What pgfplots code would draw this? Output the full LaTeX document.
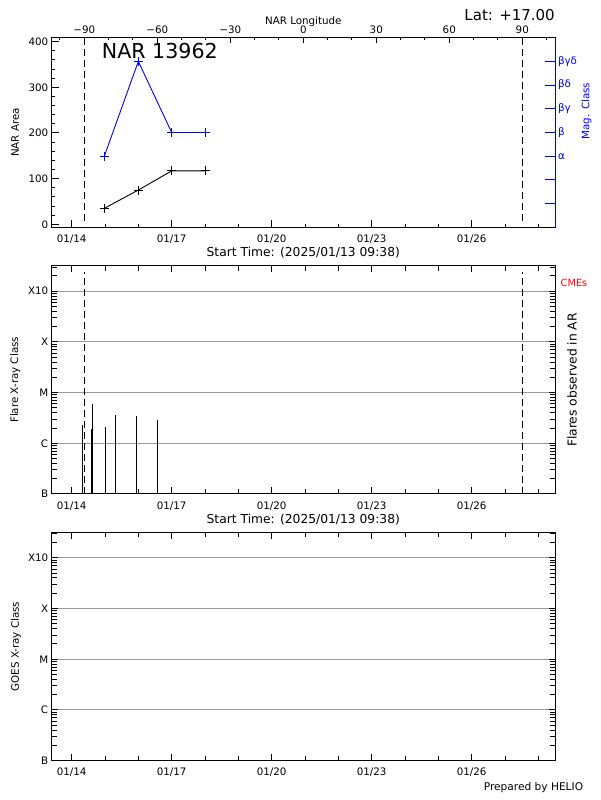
\documentclass[border=0pt]{standalone}
\usepackage{pgfplots}
\pgfplotsset{compat=1.18}
\usepackage{fontspec}
\setmainfont{DejaVu Sans}
\definecolor{gridgray}{RGB}{155,155,155}
\definecolor{idlblue}{RGB}{0,0,255}
\definecolor{idlred}{RGB}{255,0,0}
\newcommand{\tfont}{\fontsize{10.3}{12}\selectfont}
\newcommand{\lfont}{\fontsize{12.3}{14}\selectfont}

\pgfplotsset{
  helio/.style={
    scale only axis, width=503.3pt, anchor=south west,
    xmin=13.401, xmax=28.5,
    tick label style={font=\tfont},
    /pgf/number format/assume math mode=true,
    axis line style={line width=1pt},
    every tick/.style={black, line width=1pt},
    tick align=inside,
    major tick length=6.5pt, minor tick length=3.2pt,
    xtick={14,17,20,23,26},
    xticklabels={01/14,01/17,01/20,01/23,01/26},
    minor xtick={15,16,18,19,21,22,24,25,27,28},
    xticklabel style={anchor=base, yshift=-15.2pt},
  },
  xclass/.style={
    ymin=0, ymax=4.503,
    ytick={0,1,2,3,4},
    yticklabels={B,C,M,X,X10},
    minor ytick={0.30103,0.47712,0.60206,0.69897,0.77815,0.84510,0.90309,0.95424,
                 1.30103,1.47712,1.60206,1.69897,1.77815,1.84510,1.90309,1.95424,
                 2.30103,2.47712,2.60206,2.69897,2.77815,2.84510,2.90309,2.95424,
                 3.30103,3.47712,3.60206,3.69897,3.77815,3.84510,3.90309,3.95424,
                 4.30103,4.47712},
    minor tick length=5pt,
    ymajorgrids,
    major grid style={gridgray, line width=1pt},
  },
}

\begin{document}
\begin{tikzpicture}
\useasboundingbox (0,0) rectangle (600pt,800pt);

% ---------------- Panel 1: NAR area ----------------
\begin{axis}[helio, at={(51.7pt,572.7pt)}, height=189.6pt,
  ymin=-6.6, ymax=408.8,
  xtick pos=left, ytick pos=left,
  ytick={0,100,200,300,400}, minor y tick num=4,
  major tick length=7pt, minor tick length=3.5pt,
]
\addplot[black, line width=1pt, dash pattern=on 7pt off 4pt] coordinates {(14.38,8) (14.38,398)};
\addplot[black, line width=1pt, dash pattern=on 7pt off 4pt] coordinates {(27.52,8) (27.52,398)};
\addplot[black, line width=0.9pt, mark=+, mark size=4.5pt] coordinates {(14.98,35) (16.0,75) (17.0,117) (18.0,117)};
\end{axis}

% Magnetic class (right, blue)
\begin{axis}[scale only axis, width=503.3pt, height=189.6pt, anchor=south west,
  at={(51.7pt,572.7pt)},
  xmin=13.401, xmax=28.5, ymin=0, ymax=8,
  axis x line=none, axis y line*=right,
  y axis line style={idlblue, line width=1pt},
  tick align=inside,
  ytick={1,2,3,4,5,6,7},
  yticklabels={{},{},α,β,βγ,βδ,βγδ},
  minor ytick={},
  major tick length=10pt,
  ytick style={idlblue, line width=1pt},
  yticklabel style={font=\tfont, text=idlblue, anchor=west, xshift=-0.5pt},
]
\addplot[idlblue, line width=0.9pt, mark=+, mark size=4.5pt] coordinates {(14.98,3) (16.0,7) (17.0,4) (18.0,4)};
\end{axis}

% Longitude (top)
\begin{axis}[scale only axis, width=503.3pt, height=189.6pt, anchor=south west,
  at={(51.7pt,572.7pt)},
  xmin=-103.4, xmax=103.44, ymin=0, ymax=1,
  axis y line=none, axis x line*=top,
  x axis line style={line width=1pt},
  tick align=inside,
  xtick={-90,-60,-30,0,30,60,90},
  xticklabels={−90,−60,−30,0,30,60,90},
  minor xtick={-100,-80,-70,-50,-40,-20,-10,10,20,40,50,70,80,100},
  major tick length=5pt, minor tick length=2.5pt,
  xtick style={black, line width=1pt},
  xticklabel style={font=\tfont, anchor=base, yshift=4.4pt},
]
\end{axis}

% ---------------- Panel 2: flares ----------------
\begin{axis}[helio, xclass, at={(51.7pt,306pt)}, height=228.3pt]
\addplot[black, line width=1pt, dash pattern=on 7pt off 4pt] coordinates {(14.38,0) (14.38,4.385)};
\addplot[black, line width=1pt, dash pattern=on 7pt off 4pt] coordinates {(27.52,0) (27.52,4.385)};
\addplot[black, ycomb, line width=1pt, no marks] coordinates {
  (14.318,1.355) (14.588,1.290) (14.618,1.783) (15.029,1.316)
  (15.308,1.552) (15.950,1.533) (16.568,1.454)};
\end{axis}

% ---------------- Panel 3: GOES ----------------
\begin{axis}[helio, xclass, at={(51.7pt,39.3pt)}, height=228.4pt]
\addplot[draw=none, forget plot] coordinates {(14,0)};
\end{axis}

% ---------------- Texts ----------------
\node[anchor=base, font=\fontsize{10.3}{12}\selectfont, inner sep=0pt] at (303.3pt,775.5pt) {NAR Longitude};
\node[anchor=base east, font=\fontsize{15}{17}\selectfont, inner sep=0pt] at (555pt,779pt) {Lat: +17.00};
\node[anchor=base west, font=\fontsize{20.6}{23}\selectfont, inner sep=0pt] at (101.7pt,741.7pt) {NAR 13962};
\node[rotate=90, font=\tfont, inner sep=0pt] at (15.3pt,667.5pt) {NAR Area};
\node[rotate=90, font=\tfont, text=idlblue, inner sep=0pt] at (586.5pt,689pt) {Mag. Class};
\node[anchor=base, font=\lfont, inner sep=0pt] at (303.3pt,543.3pt) {Start Time: (2025/01/13 09:38)};

\node[rotate=90, font=\tfont, inner sep=0pt] at (15.3pt,420.1pt) {Flare X-ray Class};
\node[rotate=90, font=\lfont, inner sep=0pt] at (572pt,420pt) {Flares observed in AR};
\node[font=\fontsize{9.8}{11}\selectfont, text=idlred, inner sep=0pt] at (574pt,516.7pt) {CMEs};
\node[anchor=base, font=\lfont, inner sep=0pt] at (303.3pt,276.6pt) {Start Time: (2025/01/13 09:38)};

\node[rotate=90, font=\tfont, inner sep=0pt] at (16pt,153.5pt) {GOES X-ray Class};
\node[anchor=base east, font=\fontsize{10.6}{12}\selectfont, inner sep=0pt] at (583.3pt,9.3pt) {Prepared by HELIO};
\end{tikzpicture}
\end{document}
